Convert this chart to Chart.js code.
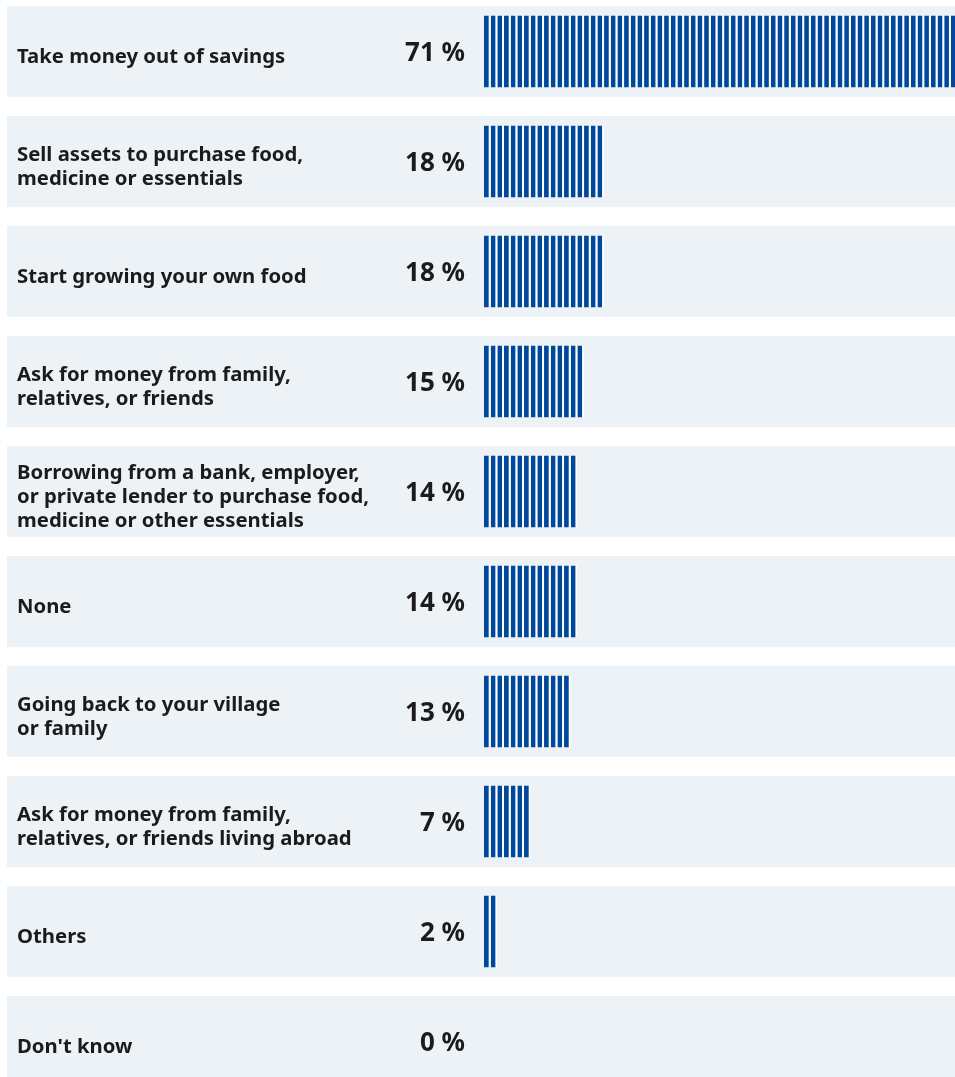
<!DOCTYPE html>
<html>
<head>
<meta charset="utf-8">
<script src="https://cdn.jsdelivr.net/npm/chart.js@4.4.1/dist/chart.umd.min.js"></script>
<style>
  html, body { margin: 0; padding: 0; background: #ffffff; overflow: hidden; }
  #wrap { width: 1151px; height: 1077px; }
</style>
</head>
<body>
<div id="wrap"><canvas id="chart" width="1151" height="1077"></canvas></div>
<script>
// Coping strategies and the share of respondents choosing each one
const categories = [
  "Take money out of savings",
  ["Sell assets to purchase food,", "medicine or essentials"],
  "Start growing your own food",
  ["Ask for money from family,", "relatives, or friends"],
  ["Borrowing from a bank, employer,", "or private lender to purchase food,", "medicine or other essentials"],
  "None",
  ["Going back to your village", "or family"],
  ["Ask for money from family,", "relatives, or friends living abroad"],
  "Others",
  "Don't know"
];
const shares = [71, 18, 18, 15, 14, 14, 13, 7, 2, 0];
const valueSuffix = " %";

const BLUE = "#00489b";
const BAND = "#edf2f7";
const INK = "#1b1b1b";
const FONT = "'Noto Sans', 'Open Sans', sans-serif";

// Each percentage point is one stripe: stack unit segments per category
const maxShare = Math.max(...shares);
const stripeSets = [];
for (let k = 0; k < maxShare; k++) {
  stripeSets.push({
    data: shares.map(v => (v > k ? 1 : null)),
    backgroundColor: BLUE,
    borderColor: "#ffffff",
    borderWidth: { top: 0, right: 2, bottom: 0, left: 0 },
    borderSkipped: false,
    inflateAmount: 0,
    barThickness: 72,
    clip: false
  });
}

// Light band behind every row, from the left margin to the canvas edge
const rowBands = {
  id: "rowBands",
  beforeDraw(chart) {
    const { ctx, scales: { y } } = chart;
    ctx.save();
    ctx.fillStyle = BAND;
    categories.forEach((_, i) => {
      const cy = y.getPixelForValue(i);
      ctx.fillRect(7, cy - 45.5, chart.width - 7, 91);
    });
    ctx.restore();
  }
};

// Percentage text to the left of each bar
const valueLabels = {
  id: "valueLabels",
  afterDatasetsDraw(chart) {
    const { ctx, chartArea, scales: { y } } = chart;
    ctx.save();
    ctx.fillStyle = INK;
    ctx.font = "bold 26px " + FONT;
    ctx.textAlign = "right";
    ctx.textBaseline = "middle";
    shares.forEach((v, i) => {
      ctx.fillText(v + valueSuffix, chartArea.left - 19, y.getPixelForValue(i) + 2);
    });
    ctx.restore();
  }
};

new Chart(document.getElementById("chart"), {
  type: "bar",
  data: { labels: categories, datasets: stripeSets },
  options: {
    indexAxis: "y",
    responsive: false,
    animation: false,
    layout: { padding: { left: 17, right: 0, top: 51.5, bottom: 35.5 } },
    plugins: { legend: { display: false }, tooltip: { enabled: false } },
    scales: {
      x: {
        type: "linear",
        min: 0,
        max: 100,
        stacked: true,
        display: false
      },
      y: {
        type: "category",
        stacked: true,
        offset: false,
        grid: { display: false },
        border: { display: false },
        ticks: {
          crossAlign: "far",
          autoSkip: false,
          color: INK,
          padding: 0,
          labelOffset: 5.5,
          font: { family: FONT, size: 20.3, weight: "bold", lineHeight: 1.18 }
        },
        afterFit(scale) { scale.width = 467; }
      }
    }
  },
  plugins: [rowBands, valueLabels]
});
</script>
</body>
</html>
